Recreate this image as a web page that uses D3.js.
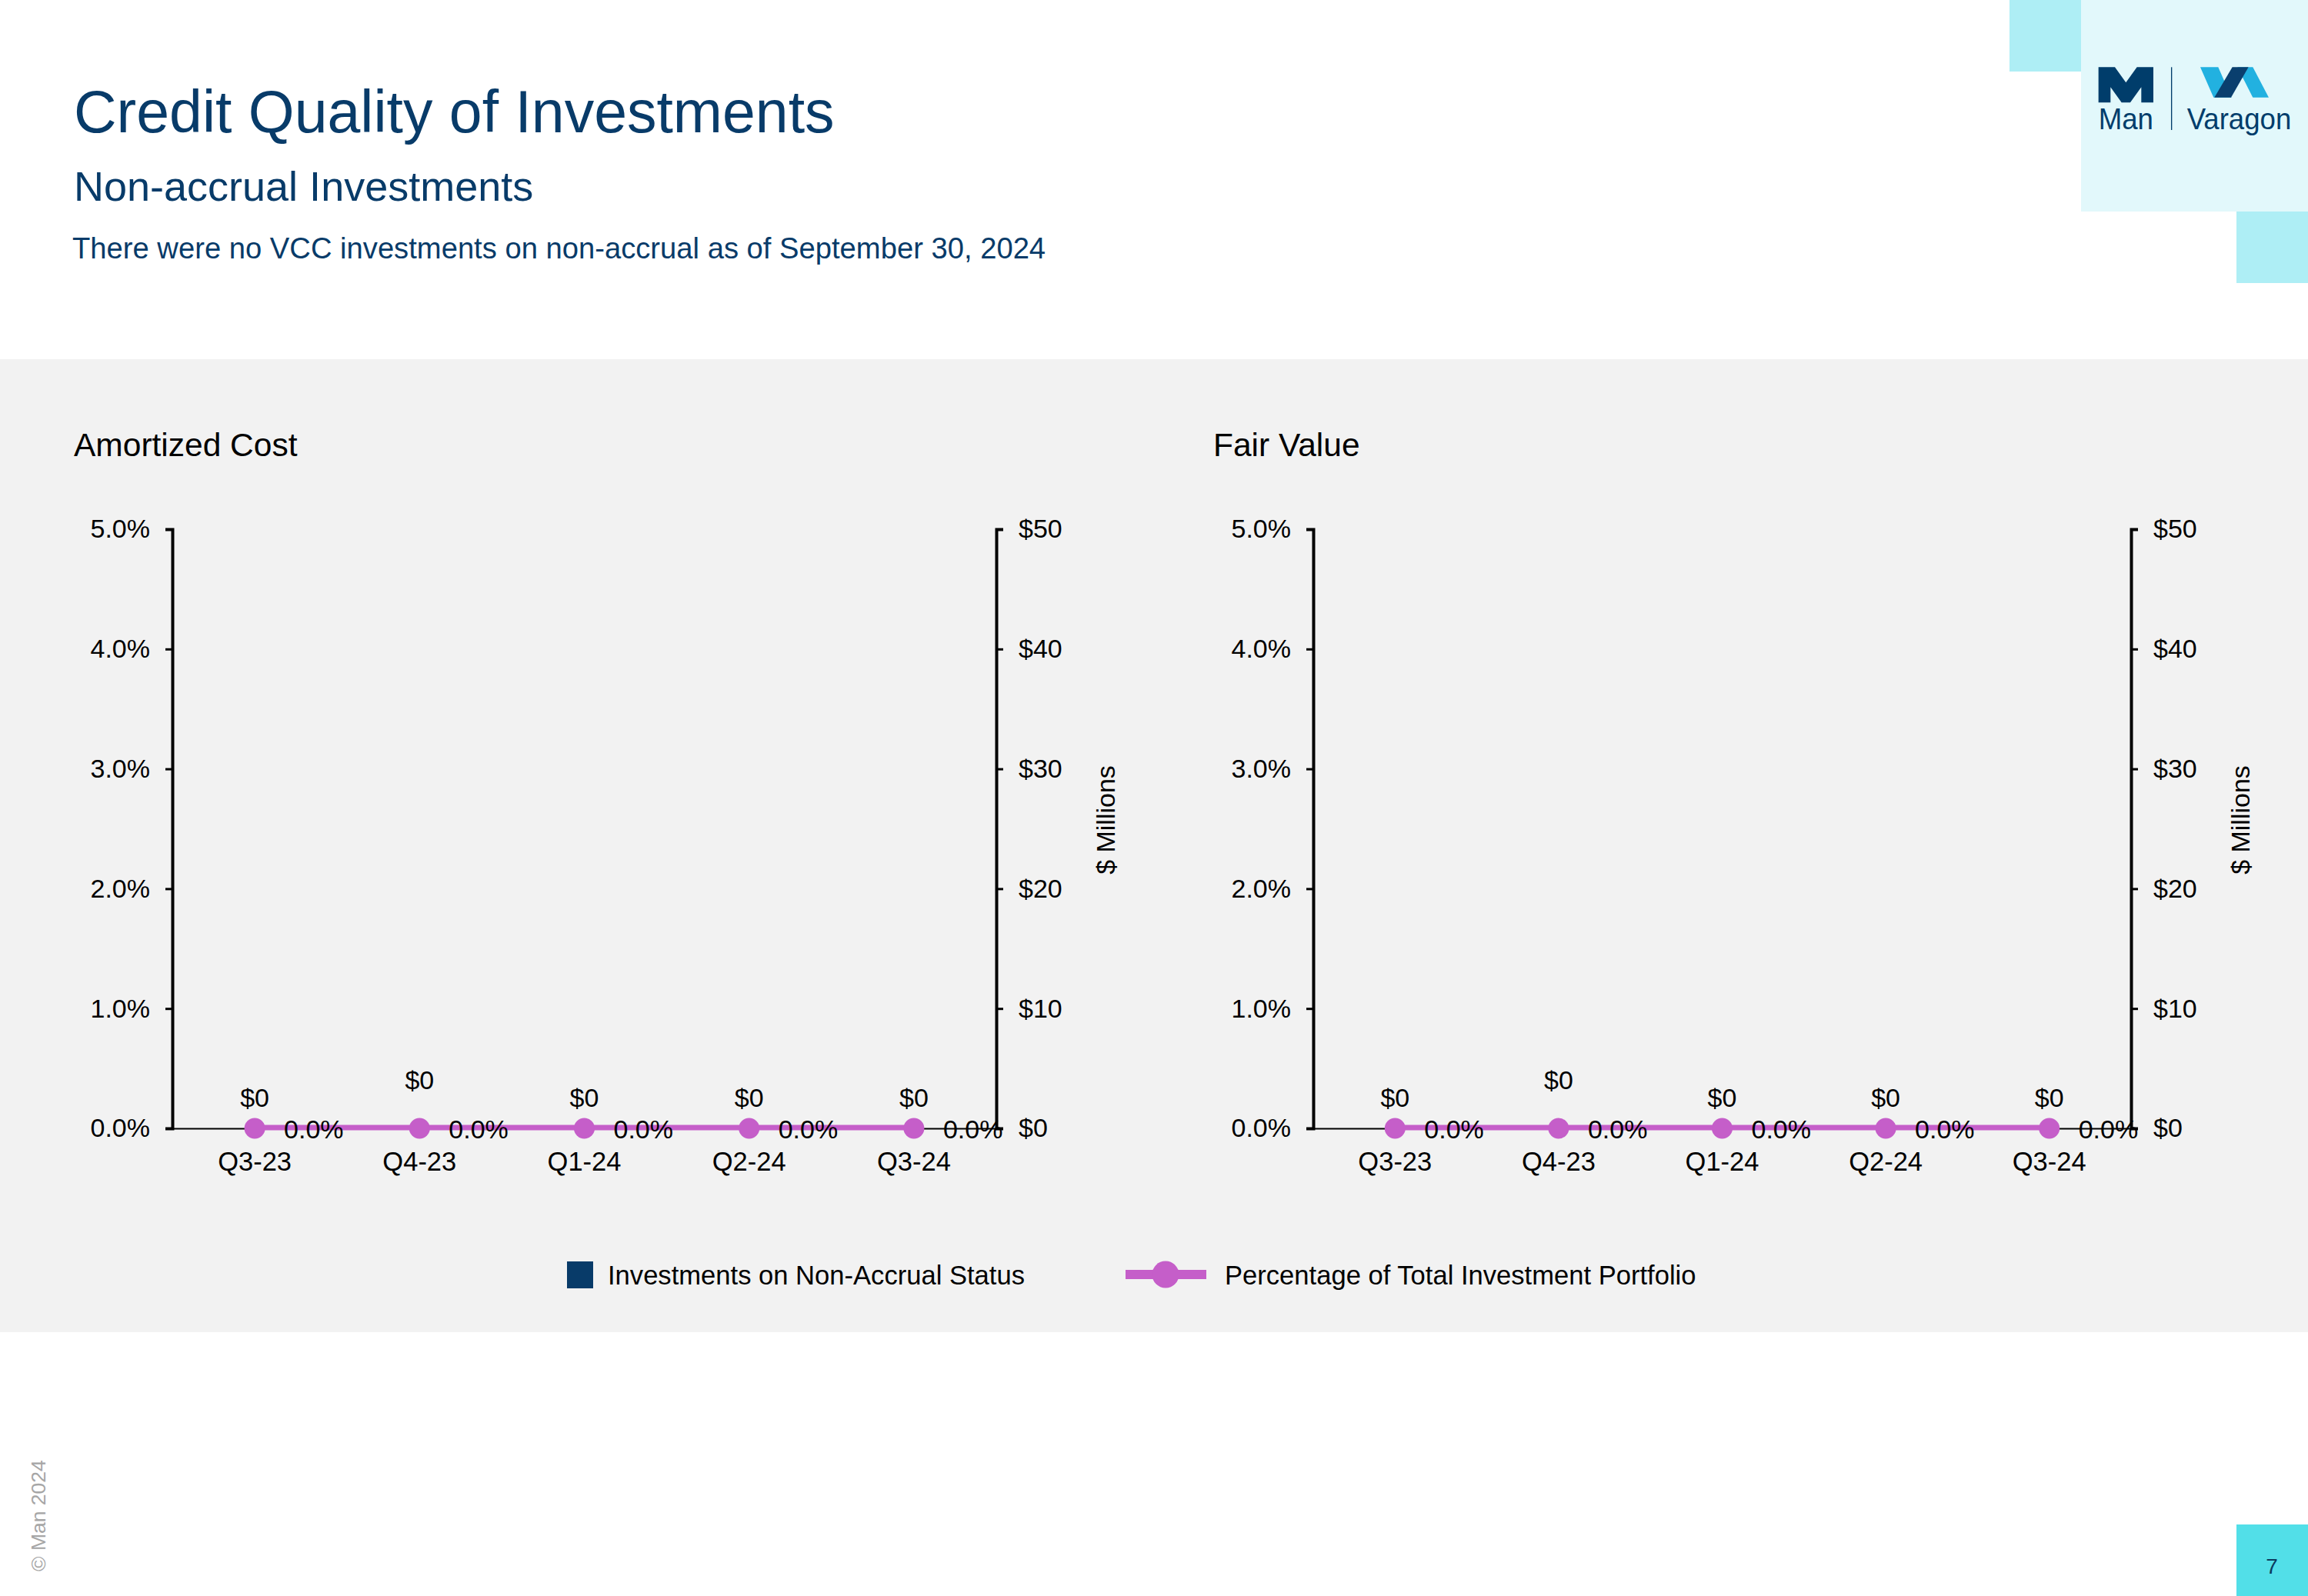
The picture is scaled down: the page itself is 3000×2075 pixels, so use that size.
<!DOCTYPE html>
<html>
<head>
<meta charset="utf-8">
<script src="https://cdn.jsdelivr.net/npm/d3@7"></script>
<style>
  html, body { margin: 0; padding: 0; background: #ffffff; }
  svg { display: block; }
  text { font-family: "Liberation Sans", Arial, "DejaVu Sans", sans-serif; }
</style>
</head>
<body>
<svg id="chart" width="3000" height="2075"></svg>
<script>
// ---------------- DATA ----------------
const categories = ["Q3-23", "Q4-23", "Q1-24", "Q2-24", "Q3-24"];
const amortizedCostNonAccrual = [0, 0, 0, 0, 0];      // $ millions
const amortizedCostPctOfPortfolio = [0, 0, 0, 0, 0];   // fraction
const fairValueNonAccrual = [0, 0, 0, 0, 0];          // $ millions
const fairValuePctOfPortfolio = [0, 0, 0, 0, 0];       // fraction
const pctTicks = [0, 0.01, 0.02, 0.03, 0.04, 0.05];
const dollarTicks = [0, 10, 20, 30, 40, 50];
const seriesNames = ["Investments on Non-Accrual Status", "Percentage of Total Investment Portfolio"];
const panelTitles = ["Amortized Cost", "Fair Value"];

// ---------------- STYLE / LAYOUT ----------------
const NAVY = "#083b69";
const PINK = "#c55ec9";
const valueLabelLift = [0, 23, 0, 0, 0]; // label collision offsets (px)

const svg = d3.select("#chart");

// background panel
svg.append("rect").attr("x", 0).attr("y", 467).attr("width", 3000).attr("height", 1265).attr("fill", "#f2f2f2");

// titles
svg.append("text").attr("x", 96).attr("y", 172).attr("font-size", 77).attr("fill", NAVY)
  .text("Credit Quality of Investments");
svg.append("text").attr("x", 96).attr("y", 261).attr("font-size", 54).attr("fill", NAVY)
  .text("Non-accrual Investments");
svg.append("text").attr("x", 94).attr("y", 336).attr("font-size", 38.2).attr("fill", NAVY)
  .text("There were no VCC investments on non-accrual as of September 30, 2024");

// ---------------- LOGO ----------------
svg.append("rect").attr("x", 2612).attr("y", 0).attr("width", 93).attr("height", 93).attr("fill", "#aeeef5");
svg.append("rect").attr("x", 2705).attr("y", 0).attr("width", 295).attr("height", 275).attr("fill", "#e2f8fb");
svg.append("rect").attr("x", 2907).attr("y", 275).attr("width", 93).attr("height", 93).attr("fill", "#aeeef5");
const logo = svg.append("g").attr("transform", "translate(2600,0) scale(0.3333)");
logo.append("polygon").attr("fill", "#003d6b")
  .attr("points", "383,262 447,262 490,322 533,262 597,262 597,400 550,400 550,340 507,400 473,400 430,340 430,400 383,400");
logo.append("text").attr("x", 383).attr("y", 505).attr("font-size", 118)
  .attr("font-family", "Roboto, 'Open Sans', sans-serif").attr("font-weight", 300)
  .attr("textLength", 214).attr("lengthAdjust", "spacingAndGlyphs").attr("fill", "#003d6b").text("Man");
logo.append("rect").attr("x", 666).attr("y", 262).attr("width", 4).attr("height", 245).attr("fill", "#003d6b");
logo.append("polygon").attr("fill", "#22b1e0").attr("points", "780,262 850,262 902,380 832,380");
logo.append("polygon").attr("fill", "#22b1e0").attr("points", "925,262 985,262 1047,380 985,380");
logo.append("polygon").attr("fill", "#0a3f6e").attr("points", "905,262 968,262 900,380 835,380");
logo.append("text").attr("x", 728).attr("y", 505).attr("font-size", 118)
  .attr("font-family", "Roboto, 'Open Sans', sans-serif").attr("font-weight", 400)
  .attr("textLength", 407).attr("lengthAdjust", "spacingAndGlyphs").attr("fill", "#003d6b").text("Varagon");

// ---------------- CHARTS ----------------
const panels = [
  { title: panelTitles[0], titleX: 96, x0: 224, x1: 1295, values: amortizedCostNonAccrual, pct: amortizedCostPctOfPortfolio },
  { title: panelTitles[1], titleX: 1577, x0: 1707, x1: 2770, values: fairValueNonAccrual, pct: fairValuePctOfPortfolio }
];
const yTop = 688, yBottom = 1467;

panels.forEach(p => {
  const g = svg.append("g");
  g.append("text").attr("x", p.titleX).attr("y", 593).attr("font-size", 42.5).attr("fill", "#000").text(p.title);

  const x = d3.scaleBand().domain(categories).range([p.x0, p.x1]).padding(0);
  const yPct = d3.scaleLinear().domain([0, 0.05]).range([yBottom, yTop]);
  const yUsd = d3.scaleLinear().domain([0, 50]).range([yBottom, yTop]);

  // x axis
  const xAxis = g.append("g").attr("transform", `translate(0,${yBottom})`)
    .call(d3.axisBottom(x).tickSize(0).tickPadding(31));
  xAxis.select(".domain").attr("stroke", "#000").attr("stroke-width", 2);
  xAxis.selectAll("text").attr("font-size", 34.5).attr("fill", "#000").attr("font-family", null);

  // left axis
  const yl = g.append("g").attr("transform", `translate(${p.x0},0)`)
    .call(d3.axisLeft(yPct).tickValues(pctTicks).tickFormat(d3.format(".1%")).tickSize(9).tickPadding(20));
  yl.select(".domain").attr("stroke", "#000").attr("stroke-width", 4);
  yl.selectAll(".tick line").attr("stroke", "#000").attr("stroke-width", 3);
  yl.selectAll("text").attr("font-size", 34).attr("fill", "#000").attr("font-family", null);

  // right axis
  const yr = g.append("g").attr("transform", `translate(${p.x1},0)`)
    .call(d3.axisRight(yUsd).tickValues(dollarTicks).tickFormat(d => "$" + d).tickSize(9).tickPadding(20));
  yr.select(".domain").attr("stroke", "#000").attr("stroke-width", 4);
  yr.selectAll(".tick line").attr("stroke", "#000").attr("stroke-width", 3);
  yr.selectAll("text").attr("font-size", 34).attr("fill", "#000").attr("font-family", null);

  g.append("text").attr("transform", `translate(${p.x1 + 154},1066) rotate(-90)`)
    .attr("text-anchor", "middle").attr("font-size", 34).attr("fill", "#000").text("$ Millions");

  // bars (secondary $ axis)
  const bw = x.bandwidth() * 0.5;
  g.selectAll("rect.bar").data(p.values).join("rect").attr("class", "bar")
    .attr("x", (d, i) => x(categories[i]) + (x.bandwidth() - bw) / 2)
    .attr("y", d => yUsd(d)).attr("width", bw).attr("height", d => yUsd(0) - yUsd(d))
    .attr("fill", NAVY);

  // line (primary % axis)
  const cx = i => x(categories[i]) + x.bandwidth() / 2;
  const line = d3.line().x((d, i) => cx(i)).y(d => yPct(d) - 1);
  g.append("path").datum(p.pct).attr("d", line).attr("fill", "none")
    .attr("stroke", PINK).attr("stroke-width", 7);
  g.selectAll("circle.pt").data(p.pct).join("circle").attr("class", "pt")
    .attr("cx", (d, i) => cx(i)).attr("cy", d => yPct(d)).attr("r", 13.5).attr("fill", PINK);

  // value labels
  g.selectAll("text.usd").data(p.values).join("text").attr("class", "usd")
    .attr("x", (d, i) => cx(i)).attr("y", (d, i) => yUsd(d) - 28 - valueLabelLift[i])
    .attr("text-anchor", "middle").attr("font-size", 34).attr("fill", "#000")
    .text(d => "$" + d3.format(",.0f")(d));
  g.selectAll("text.pct").data(p.pct).join("text").attr("class", "pct")
    .attr("x", (d, i) => cx(i) + 38).attr("y", d => yPct(d) + 13)
    .attr("font-size", 34).attr("fill", "#000")
    .text(d => d3.format(".1%")(d));
});

// ---------------- LEGEND ----------------
const lg = svg.append("g");
lg.append("rect").attr("x", 737).attr("y", 1640).attr("width", 34).attr("height", 35).attr("fill", NAVY);
lg.append("text").attr("x", 790).attr("y", 1670).attr("font-size", 34.6).attr("fill", "#000").text(seriesNames[0]);
lg.append("line").attr("x1", 1463).attr("x2", 1568).attr("y1", 1657).attr("y2", 1657)
  .attr("stroke", PINK).attr("stroke-width", 12);
lg.append("circle").attr("cx", 1515).attr("cy", 1657).attr("r", 17.5).attr("fill", PINK);
lg.append("text").attr("x", 1592).attr("y", 1670).attr("font-size", 34.6).attr("fill", "#000").text(seriesNames[1]);

// ---------------- FOOTER ----------------
svg.append("text").attr("transform", "translate(59,2043) rotate(-90)")
  .attr("font-size", 26.5).attr("fill", "#a6a6a6").text("© Man 2024");
svg.append("rect").attr("x", 2907).attr("y", 1982).attr("width", 93).attr("height", 93).attr("fill", "#52dfe8");
svg.append("text").attr("x", 2953).attr("y", 2046).attr("text-anchor", "middle")
  .attr("font-size", 28).attr("fill", "#0b3b5e").text("7");
</script>
</body>
</html>
